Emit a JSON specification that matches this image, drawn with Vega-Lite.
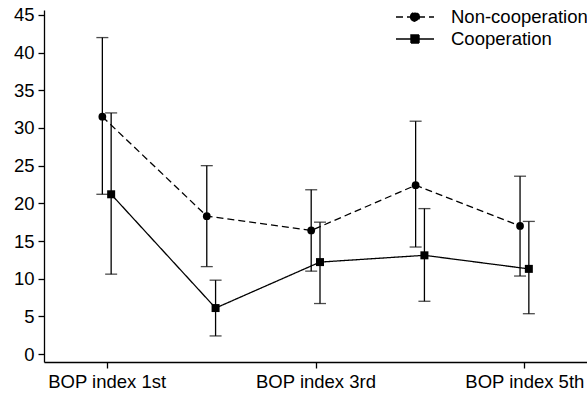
{
  "$schema": "https://vega.github.io/schema/vega-lite/v6.json",
  "width": 543,
  "height": 352,
  "autosize": {"type": "none"},
  "padding": {"left": 44, "top": 10, "right": 0, "bottom": 34},
  "background": "white",
  "config": {
    "view": {"stroke": null},
    "font": "Liberation Sans",
    "axis": {
      "grid": false,
      "domainColor": "black",
      "domainWidth": 1.3,
      "tickColor": "black",
      "tickWidth": 1.3,
      "tickSize": 6,
      "labelColor": "black",
      "labelFont": "Liberation Sans",
      "labelFontSize": 18.5,
      "labelOverlap": false,
      "title": null
    }
  },
  "data": {
    "values": [
      {"bop": "BOP index 1st", "group": "Non-cooperation", "mean": 31.5, "lo": 21.2, "hi": 42.0},
      {"bop": "BOP index 2nd", "group": "Non-cooperation", "mean": 18.3, "lo": 11.6, "hi": 25.0},
      {"bop": "BOP index 3rd", "group": "Non-cooperation", "mean": 16.4, "lo": 11.0, "hi": 21.8},
      {"bop": "BOP index 4th", "group": "Non-cooperation", "mean": 22.4, "lo": 14.2, "hi": 30.9},
      {"bop": "BOP index 5th", "group": "Non-cooperation", "mean": 17.0, "lo": 10.35, "hi": 23.6},
      {"bop": "BOP index 1st", "group": "Cooperation", "mean": 21.2, "lo": 10.6, "hi": 32.0},
      {"bop": "BOP index 2nd", "group": "Cooperation", "mean": 6.1, "lo": 2.4, "hi": 9.8},
      {"bop": "BOP index 3rd", "group": "Cooperation", "mean": 12.2, "lo": 6.7, "hi": 17.5},
      {"bop": "BOP index 4th", "group": "Cooperation", "mean": 13.1, "lo": 7.0, "hi": 19.3},
      {"bop": "BOP index 5th", "group": "Cooperation", "mean": 11.3, "lo": 5.35, "hi": 17.6}
    ]
  },
  "encoding": {
    "x": {
      "field": "bop",
      "type": "ordinal",
      "sort": ["BOP index 1st", "BOP index 2nd", "BOP index 3rd", "BOP index 4th", "BOP index 5th"],
      "scale": {"type": "point", "padding": 0.6},
      "axis": {
        "values": ["BOP index 1st", "BOP index 3rd", "BOP index 5th"],
        "labelAngle": 0,
        "labelPadding": 4
      }
    },
    "xOffset": {
      "field": "group",
      "type": "nominal",
      "scale": {"type": "point", "domain": ["Non-cooperation", "Cooperation"], "range": [-4.3, 4.5], "padding": 0}
    }
  },
  "layer": [
    {
      "mark": {"type": "rule", "color": "black", "strokeWidth": 1.3},
      "encoding": {
        "y": {
          "field": "lo",
          "type": "quantitative",
          "scale": {"domain": [-1.06, 45.66], "nice": false, "zero": false},
          "axis": {"values": [0, 5, 10, 15, 20, 25, 30, 35, 40, 45], "labelPadding": 4, "labelOverlap": false}
        },
        "y2": {"field": "hi"}
      }
    },
    {
      "mark": {"type": "tick", "color": "black", "thickness": 1.3, "size": 12},
      "encoding": {
        "y": {"field": "lo", "type": "quantitative", "axis": {"values": [0, 5, 10, 15, 20, 25, 30, 35, 40, 45], "labelPadding": 4, "labelOverlap": false}}
      }
    },
    {
      "mark": {"type": "tick", "color": "black", "thickness": 1.3, "size": 12},
      "encoding": {
        "y": {"field": "hi", "type": "quantitative", "axis": {"values": [0, 5, 10, 15, 20, 25, 30, 35, 40, 45], "labelPadding": 4, "labelOverlap": false}}
      }
    },
    {
      "mark": {"type": "line", "color": "black", "strokeWidth": 1.3},
      "encoding": {
        "y": {"field": "mean", "type": "quantitative", "axis": {"values": [0, 5, 10, 15, 20, 25, 30, 35, 40, 45], "labelPadding": 4, "labelOverlap": false}},
        "detail": {"field": "group"},
        "strokeDash": {
          "field": "group",
          "type": "nominal",
          "scale": {"domain": ["Non-cooperation", "Cooperation"], "range": [[7, 4], [1, 0]]},
          "legend": {
            "title": null,
            "orient": "none",
            "legendX": 360,
            "legendY": -4,
            "symbolSize": 400,
            "symbolStrokeWidth": 1.4,
            "symbolStrokeColor": "black",
            "labelFontSize": 18.5,
            "labelFont": "Liberation Sans",
            "labelColor": "black",
            "labelOffset": 25,
            "rowPadding": 1,
            "encode": {
              "symbols": {
                "update": {
                  "fill": {"value": "black"},
                  "stroke": {"value": "black"},
                  "strokeWidth": {"value": 1.4},
                  "strokeOpacity": {"value": 1},
                  "opacity": {"value": 1},
                  "size": {"value": 400},
                  "shape": [
                    {"test": "datum.value === 'Non-cooperation'", "value": "M-1.9,0H1.9M-0.44,0A0.44,0.44,0,1,0,0.44,0A0.44,0.44,0,1,0,-0.44,0Z"},
                    {"value": "M-1.9,0H1.9M-0.4,-0.4H0.4V0.4H-0.4Z"}
                  ]
                }
              }
            }
          }
        }
      }
    },
    {
      "transform": [{"filter": "datum.group === 'Non-cooperation'"}],
      "mark": {"type": "point", "filled": true, "color": "black", "opacity": 1, "shape": "circle", "size": 60},
      "encoding": {
        "y": {"field": "mean", "type": "quantitative", "axis": {"values": [0, 5, 10, 15, 20, 25, 30, 35, 40, 45], "labelPadding": 4, "labelOverlap": false}}
      }
    },
    {
      "transform": [{"filter": "datum.group === 'Cooperation'"}],
      "mark": {"type": "point", "filled": true, "color": "black", "opacity": 1, "shape": "square", "size": 64},
      "encoding": {
        "y": {"field": "mean", "type": "quantitative", "axis": {"values": [0, 5, 10, 15, 20, 25, 30, 35, 40, 45], "labelPadding": 4, "labelOverlap": false}}
      }
    }
  ]
}
